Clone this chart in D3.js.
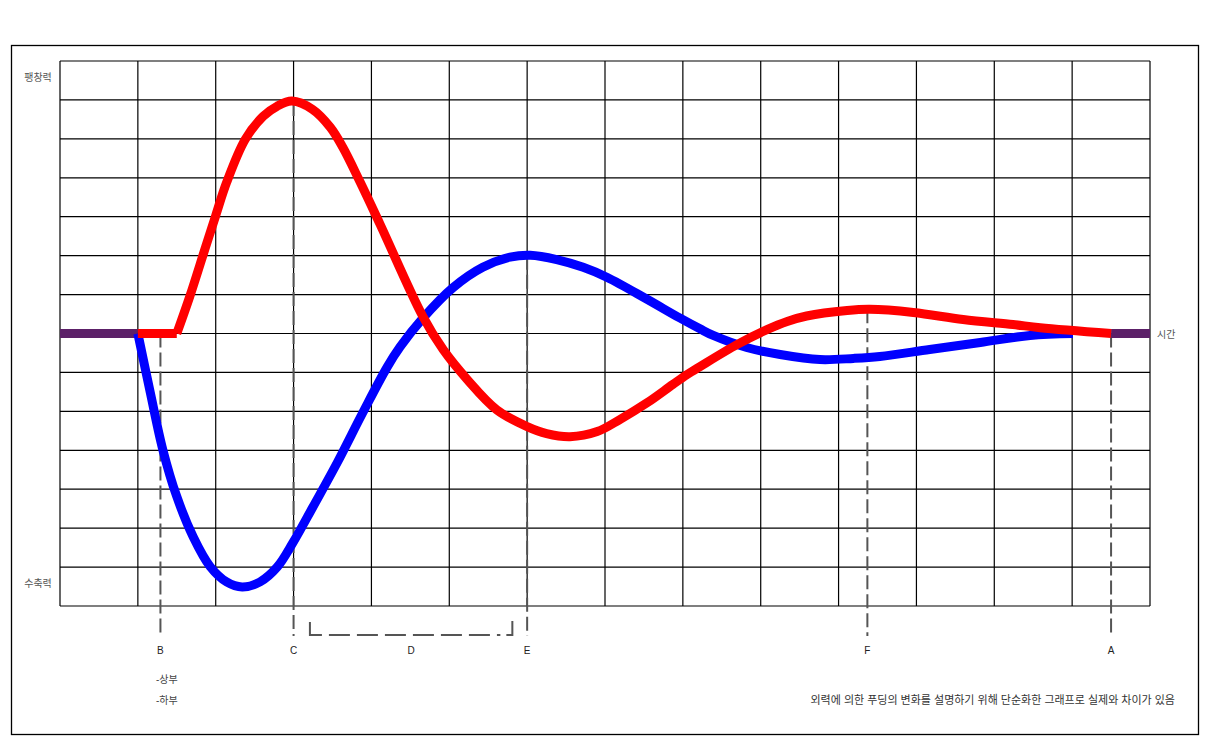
<!DOCTYPE html>
<html>
<head>
<meta charset="utf-8">
<script src="https://cdn.jsdelivr.net/npm/d3@7"></script>
<style>
  body { margin: 0; background: #fff; }
  text { font-family: "Liberation Sans", "Noto Sans CJK KR", sans-serif; }
</style>
</head>
<body>
<div id="chart"></div>
<script>
// time in grid columns (0..14), force in grid rows (-7..7)
var redTime = [1.0, 1.5, 1.67, 1.86, 2.0, 2.14, 2.38, 2.61, 2.79, 2.98, 3.24, 3.47, 3.63, 3.85, 4.11,
  4.66, 4.92, 5.23, 5.61, 6.0, 6.25, 6.55, 6.9, 7.19, 7.54, 7.87, 8.05, 8.22, 8.7, 9.08, 9.34, 9.59,
  10.11, 10.4, 10.96, 11.6, 12.24, 12.59, 13.5];
var redForce = [0, 0, 0.97, 2.16, 3.03, 3.88, 4.99, 5.58, 5.84, 5.97, 5.76, 5.3, 4.79, 3.91, 2.81,
  0.44, -0.41, -1.18, -1.96, -2.39, -2.57, -2.65, -2.52, -2.21, -1.78, -1.31, -1.06, -0.85, -0.28, 0.1, 0.31, 0.45,
  0.59, 0.62, 0.54, 0.36, 0.23, 0.15, 0];

var blueTime = [1.0, 1.16, 1.32, 1.5, 1.71, 1.93, 2.14, 2.34, 2.57, 2.79, 2.99, 3.25, 3.56, 3.89, 4.2,
  4.37, 4.66, 5.05, 5.43, 5.78, 6.04, 6.38, 6.72, 7.03, 7.54, 7.96, 8.22, 8.39, 8.82, 9.25, 9.76,
  10.19, 10.53, 11.17, 11.82, 12.46, 13.01];
var blueForce = [0, -1.52, -2.98, -4.19, -5.22, -5.99, -6.38, -6.51, -6.38, -6.0, -5.38, -4.45, -3.32, -2.03, -0.87,
  -0.34, 0.39, 1.18, 1.7, 1.96, 2.01, 1.9, 1.7, 1.44, 0.88, 0.4, 0.12, -0.05, -0.36, -0.54, -0.67,
  -0.64, -0.59, -0.41, -0.23, -0.05, 0];

// rest segments (purple) before and after the motion
var restStart = [0, 1.0];
var restEnd = [13.5, 14];

// dashed markers
var markerLabels = ["B", "C", "E", "F", "A"];
var markerTime = [1.29, 3.0, 6.0, 10.37, 13.5];
var markerTop = [0, 5.95, 2.0, 0.62, 0];
var bracketLabel = "D";
var bracketTime = [3.21, 5.81];

var yLabels = ["팽창력", "수축력"];
var yLabelForce = [6.6, -6.4];
var xLabel = "시간";
var legendItems = ["-상부", "-하부"];
var note = "외력에 의한 푸딩의 변화를 설명하기 위해 단순화한 그래프로 실제와 차이가 있음";

var W = 1211, H = 750;
var gLeft = 60, gRight = 1150, gTop = 61, gBottom = 606;

var svg = d3.select("#chart").append("svg")
  .attr("width", W)
  .attr("height", H);

// outer frame
svg.append("rect")
  .attr("x", 11.5).attr("y", 45.5)
  .attr("width", 1187).attr("height", 689)
  .attr("fill", "none")
  .attr("stroke", "#000")
  .attr("stroke-width", 1.3);

var x = d3.scaleLinear().domain([0, 14]).range([gLeft, gRight]);
var y = d3.scaleLinear().domain([-7, 7]).range([gBottom, gTop]);

// grid
var grid = svg.append("g");
grid.selectAll(".vline")
  .data(d3.range(0, 15))
  .enter()
  .append("line")
  .attr("x1", d => x(d)).attr("x2", d => x(d))
  .attr("y1", gTop).attr("y2", gBottom)
  .attr("stroke", "#000")
  .attr("stroke-width", 1.2);
grid.selectAll(".hline")
  .data(d3.range(-7, 8))
  .enter()
  .append("line")
  .attr("x1", gLeft).attr("x2", gRight)
  .attr("y1", d => y(d)).attr("y2", d => y(d))
  .attr("stroke", "#000")
  .attr("stroke-width", 1.2);

// dashed marker lines
var lineBottom = gBottom + 30;
svg.selectAll(".marker")
  .data(markerTime)
  .enter()
  .append("line")
  .attr("x1", d => x(d)).attr("x2", d => x(d))
  .attr("y1", (d, i) => y(markerTop[i]))
  .attr("y2", lineBottom)
  .attr("stroke", "#555")
  .attr("stroke-width", 2)
  .attr("stroke-dasharray", "14,5");

svg.selectAll(".mlabel")
  .data(markerLabels)
  .enter()
  .append("text")
  .attr("x", (d, i) => x(markerTime[i]))
  .attr("y", 654)
  .attr("text-anchor", "middle")
  .attr("font-size", 10)
  .attr("fill", "#222")
  .text(d => d);

// D bracket
var bx0 = x(bracketTime[0]), bx1 = x(bracketTime[1]);
var bracket = svg.append("g")
  .attr("fill", "none")
  .attr("stroke", "#555")
  .attr("stroke-width", 2);
bracket.append("path")
  .attr("d", "M" + bx0 + "," + (gBottom + 16) + "V" + (gBottom + 29) + "H" + (bx0 + 12));
bracket.append("path")
  .attr("d", "M" + (bx0 + 19) + "," + (gBottom + 29) + "H" + (bx1 - 12))
  .attr("stroke-dasharray", "21,7");
bracket.append("path")
  .attr("d", "M" + (bx1 - 6) + "," + (gBottom + 29) + "H" + bx1 + "V" + (gBottom + 15));
svg.append("text")
  .attr("x", (bx0 + bx1) / 2)
  .attr("y", 654)
  .attr("text-anchor", "middle")
  .attr("font-size", 10)
  .attr("fill", "#222")
  .text(bracketLabel);

var line = d3.line()
  .x(d => x(d[0]))
  .y(d => y(d[1]));
var smooth = d3.line()
  .curve(d3.curveCatmullRom.alpha(0.5))
  .x(d => x(d[0]))
  .y(d => y(d[1]));

// rest segments
[restStart, restEnd].forEach(function (seg) {
  svg.append("path")
    .attr("d", line(seg.map(t => [t, 0])))
    .attr("fill", "none")
    .attr("stroke", "#5c2068")
    .attr("stroke-width", 9);
});

// blue (lower part)
svg.append("path")
  .attr("d", smooth(blueTime.map((t, i) => [t, blueForce[i]])))
  .attr("fill", "none")
  .attr("stroke", "#0000ff")
  .attr("stroke-width", 9)
  .attr("stroke-linejoin", "round");

// red (upper part): flat start, then smooth swing
var redPts = redTime.map((t, i) => [t, redForce[i]]);
svg.append("path")
  .attr("d", line(redPts.slice(0, 2)))
  .attr("fill", "none")
  .attr("stroke", "#ff0000")
  .attr("stroke-width", 9);
svg.append("path")
  .attr("d", smooth(redPts.slice(1)))
  .attr("fill", "none")
  .attr("stroke", "#ff0000")
  .attr("stroke-width", 9)
  .attr("stroke-linejoin", "round");

// axis labels
svg.selectAll(".ylab")
  .data(yLabels)
  .enter()
  .append("text")
  .attr("x", 38)
  .attr("y", (d, i) => y(yLabelForce[i]) + 4)
  .attr("text-anchor", "middle")
  .attr("font-size", 10)
  .attr("fill", "#555")
  .text(d => d);

svg.append("text")
  .attr("x", 1157)
  .attr("y", y(0) + 4)
  .attr("font-size", 10)
  .attr("fill", "#555")
  .text(xLabel);

svg.selectAll(".legend")
  .data(legendItems)
  .enter()
  .append("text")
  .attr("x", 156)
  .attr("y", (d, i) => 683 + i * 21)
  .attr("font-size", 10)
  .attr("fill", "#444")
  .text(d => d);

svg.append("text")
  .attr("x", 1175)
  .attr("y", 704)
  .attr("text-anchor", "end")
  .attr("font-size", 11)
  .attr("fill", "#333")
  .text(note);
</script>
</body>
</html>
